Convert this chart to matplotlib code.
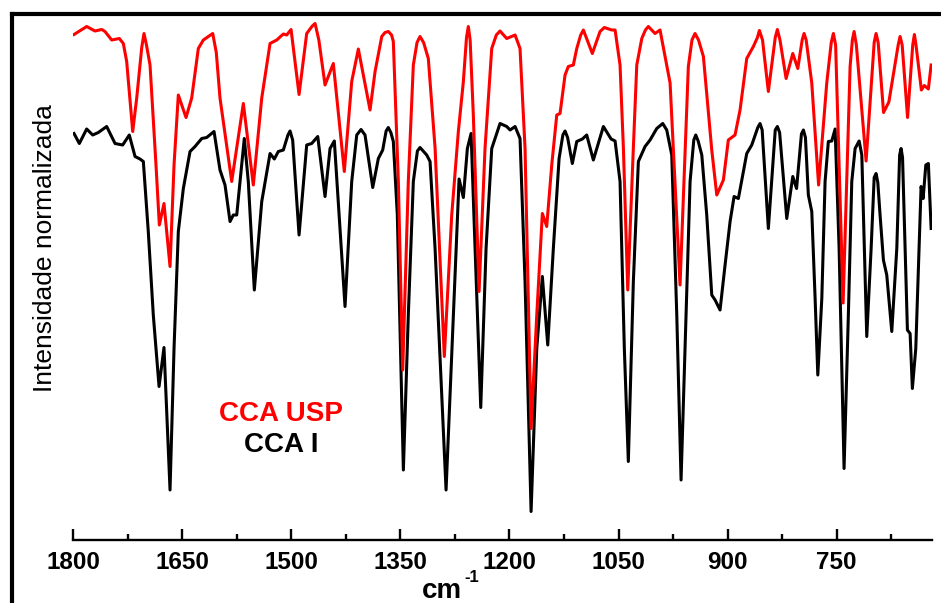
import matplotlib
matplotlib.use("Agg")
import matplotlib.pyplot as plt
from matplotlib.lines import Line2D

plt.rcParams["font.family"] = ["Liberation Sans", "DejaVu Sans"]

# Wavenumbers (cm-1) and normalized intensity, CCA USP reference (drawn with offset)
usp_wn = [1798.6, 1781.2, 1769.8, 1760.5, 1756.0, 1746.8, 1736.3, 1730.8, 1726.2, 1717.9,
          1712.4, 1705.5, 1702.4, 1699.0, 1694.1, 1685.9, 1681.3, 1674.9, 1666.6, 1661.1,
          1655.2, 1644.6, 1636.8, 1627.7, 1620.8, 1607.9, 1603.0, 1597.9, 1581.8, 1565.8,
          1552.1, 1540.5, 1529.1, 1519.9, 1510.8, 1506.2, 1500.2, 1489.2, 1478.7, 1471.0,
          1467.2, 1462.0, 1453.5, 1442.1, 1427.0, 1416.8, 1407.7, 1400.8, 1391.6, 1384.7,
          1375.5, 1371.0, 1366.5, 1362.0, 1359.6, 1352.7, 1346.7, 1339.0, 1332.1, 1327.0,
          1322.9, 1318.0, 1311.5, 1302.2, 1289.5, 1279.3, 1270.2, 1263.3, 1259.0, 1256.5,
          1254.0, 1249.6, 1241.7, 1233.5, 1224.3, 1218.0, 1212.9, 1203.7, 1192.2, 1185.4,
          1178.5, 1170.2, 1162.4, 1154.7, 1148.7, 1141.8, 1134.9, 1130.4, 1123.5, 1119.0,
          1112.1, 1107.4, 1102.0, 1098.3, 1093.0, 1086.0, 1075.4, 1069.5, 1059.3, 1054.7,
          1047.9, 1043.3, 1037.3, 1029.6, 1024.9, 1018.0, 1013.0, 1009.0, 999.8, 992.9,
          979.1, 965.4, 954.0, 949.0, 944.8, 940.0, 933.3, 921.8, 914.9, 905.8,
          899.0, 889.8, 882.9, 873.7, 864.6, 859.0, 856.3, 852.0, 844.0, 834.5,
          831.6, 828.0, 819.6, 810.4, 803.5, 797.5, 794.9, 792.0, 784.3, 774.9,
          763.7, 757.5, 754.6, 751.5, 741.2, 731.6, 728.5, 726.1, 723.0, 709.6,
          698.5, 695.9, 693.0, 685.6, 678.3, 665.5, 662.9, 660.0, 652.6, 645.5,
          643.2, 641.0, 633.6, 629.6, 624.0, 620.2]
usp_int = [1.011, 1.027, 1.018, 1.021, 1.017, 1.000, 1.003, 0.993, 0.957, 0.817,
           0.884, 0.985, 1.013, 0.990, 0.950, 0.750, 0.630, 0.673, 0.547, 0.750,
           0.890, 0.845, 0.884, 0.983, 1.000, 1.013, 0.975, 0.884, 0.717, 0.873,
           0.710, 0.884, 0.993, 1.000, 1.012, 1.010, 1.021, 0.891, 1.013, 1.028,
           1.033, 1.000, 0.910, 0.953, 0.737, 0.917, 0.982, 0.930, 0.860, 0.937,
           1.007, 1.015, 1.017, 1.010, 0.997, 0.717, 0.340, 0.717, 0.950, 0.995,
           1.007, 0.995, 0.963, 0.784, 0.367, 0.650, 0.817, 0.917, 1.005, 1.027,
           1.000, 0.850, 0.497, 0.784, 0.983, 1.010, 1.018, 1.003, 1.010, 0.983,
           0.783, 0.223, 0.450, 0.653, 0.627, 0.750, 0.850, 0.853, 0.930, 0.947,
           0.950, 0.983, 1.010, 1.020, 1.000, 0.973, 1.017, 1.025, 1.020, 1.020,
           0.950, 0.784, 0.500, 0.784, 0.950, 1.003, 1.020, 1.027, 1.013, 1.020,
           0.914, 0.510, 0.947, 1.000, 1.013, 1.000, 0.967, 0.780, 0.690, 0.720,
           0.800, 0.810, 0.860, 0.963, 0.987, 1.005, 1.019, 1.000, 0.897, 1.005,
           1.021, 1.000, 0.923, 0.973, 0.943, 1.000, 1.013, 1.000, 0.914, 0.710,
           0.914, 0.995, 1.013, 0.990, 0.474, 0.947, 1.000, 1.017, 0.990, 0.758,
           0.995, 1.013, 0.995, 0.855, 0.876, 0.990, 1.007, 0.990, 0.845, 0.990,
           1.011, 0.990, 0.900, 0.909, 0.902, 0.950]

# CCA I sample
cca_wn = [1798.6, 1791.3, 1781.2, 1772.9, 1765.2, 1753.7, 1742.2, 1731.7, 1722.6, 1714.7,
          1707.9, 1703.3, 1696.5, 1689.6, 1681.7, 1674.9, 1666.6, 1661.1, 1655.2, 1648.3,
          1639.1, 1632.2, 1623.0, 1616.2, 1606.1, 1597.9, 1591.0, 1584.1, 1579.6, 1574.9,
          1564.5, 1559.0, 1550.7, 1540.5, 1529.1, 1523.2, 1517.7, 1510.8, 1504.5, 1501.6,
          1498.0, 1489.2, 1478.7, 1471.8, 1463.5, 1453.5, 1446.6, 1440.7, 1426.0, 1416.8,
          1409.9, 1404.0, 1398.5, 1387.9, 1380.2, 1374.2, 1369.5, 1366.5, 1363.0, 1359.6,
          1354.1, 1345.8, 1339.0, 1332.1, 1326.5, 1322.9, 1313.7, 1309.1, 1302.2, 1287.1,
          1277.1, 1269.2, 1263.3, 1257.8, 1252.7, 1247.2, 1239.4, 1232.1, 1224.3, 1212.9,
          1203.7, 1199.1, 1192.2, 1185.4, 1178.5, 1170.2, 1162.4, 1154.7, 1147.3, 1139.6,
          1131.7, 1126.5, 1123.5, 1120.0, 1113.5, 1107.4, 1099.7, 1093.7, 1084.6, 1070.8,
          1060.2, 1054.7, 1047.9, 1042.0, 1036.5, 1029.6, 1022.7, 1013.5, 1006.6, 997.4,
          989.2, 983.7, 976.8, 969.9, 964.0, 957.1, 951.6, 946.5, 943.8, 940.5,
          935.5, 928.7, 921.8, 917.2, 910.4, 903.5, 896.6, 891.1, 885.2, 878.3,
          873.7, 866.8, 858.5, 855.4, 852.5, 844.0, 834.5, 831.6, 828.5, 818.7,
          810.4, 805.2, 798.5, 795.8, 793.0, 789.0, 784.3, 779.7, 776.0, 770.5,
          766.0, 761.5, 756.8, 752.2, 746.7, 739.9, 734.0, 729.3, 724.7, 719.2,
          715.5, 712.0, 708.7, 702.7, 698.5, 695.9, 693.5, 690.4, 685.8, 681.2,
          674.3, 667.4, 663.5, 661.5, 659.5, 656.0, 652.8, 649.1, 646.0, 641.3,
          636.7, 634.0, 631.2, 627.5, 624.0, 620.2]
cca_int = [0.813, 0.793, 0.822, 0.810, 0.815, 0.827, 0.793, 0.790, 0.810, 0.767,
           0.762, 0.757, 0.617, 0.450, 0.307, 0.385, 0.100, 0.383, 0.617, 0.703,
           0.777, 0.787, 0.803, 0.805, 0.817, 0.740, 0.710, 0.637, 0.650, 0.650,
           0.803, 0.717, 0.500, 0.677, 0.773, 0.762, 0.777, 0.780, 0.810, 0.818,
           0.800, 0.610, 0.790, 0.793, 0.807, 0.687, 0.783, 0.798, 0.467, 0.717,
           0.810, 0.821, 0.810, 0.705, 0.763, 0.780, 0.818, 0.825, 0.815, 0.797,
           0.650, 0.140, 0.450, 0.717, 0.778, 0.785, 0.770, 0.757, 0.583, 0.100,
           0.450, 0.722, 0.685, 0.783, 0.813, 0.583, 0.265, 0.583, 0.783, 0.833,
           0.827, 0.820, 0.827, 0.803, 0.517, 0.057, 0.383, 0.527, 0.390, 0.583,
           0.763, 0.810, 0.818, 0.805, 0.753, 0.797, 0.802, 0.810, 0.760, 0.827,
           0.802, 0.798, 0.717, 0.383, 0.157, 0.517, 0.757, 0.787, 0.800, 0.823,
           0.833, 0.820, 0.770, 0.450, 0.120, 0.450, 0.717, 0.800, 0.810, 0.798,
           0.770, 0.650, 0.490, 0.480, 0.460, 0.550, 0.637, 0.687, 0.683, 0.737,
           0.773, 0.790, 0.825, 0.833, 0.820, 0.623, 0.820, 0.827, 0.815, 0.643,
           0.727, 0.703, 0.812, 0.820, 0.805, 0.690, 0.657, 0.483, 0.330, 0.483,
           0.717, 0.797, 0.798, 0.822, 0.583, 0.143, 0.450, 0.717, 0.783, 0.798,
           0.770, 0.583, 0.407, 0.583, 0.725, 0.733, 0.715, 0.650, 0.560, 0.530,
           0.417, 0.583, 0.770, 0.783, 0.765, 0.583, 0.420, 0.413, 0.303, 0.383,
           0.583, 0.707, 0.683, 0.750, 0.753, 0.623]

major_ticks = [1800, 1650, 1500, 1350, 1200, 1050, 900, 750]
minor_ticks = [1725, 1575, 1425, 1275, 1125, 975, 825, 675]

W, H = 941, 603
fig = plt.figure(figsize=(W / 100, H / 100), dpi=100)
ax = fig.add_axes([73 / W, 1 - 540 / H, (932 - 73) / W, (540 - 15) / H])

ax.plot(cca_wn, cca_int, color="black", lw=2.2, solid_joinstyle="round", zorder=2)
ax.plot(usp_wn, usp_int, color="#ff0000", lw=2.2, solid_joinstyle="round", zorder=3)

ax.set_xlim(1800, 619)
ax.set_ylim(0, 1.05)
for side in ("left", "right", "top"):
    ax.spines[side].set_visible(False)
ax.spines["bottom"].set_linewidth(1.7)
ax.set_yticks([])
ax.set_xticks(major_ticks)
ax.set_xticks(minor_ticks, minor=True)
ax.tick_params(axis="x", which="major", direction="in", length=8, width=1.7,
               labelsize=17.5, pad=8)
ax.tick_params(axis="x", which="minor", direction="in", length=4.5, width=1.7)
for lab in ax.get_xticklabels():
    lab.set_fontweight("bold")

# axis titles
fig.text(442 / W, 1 - 591 / H, "cm", ha="center", va="center",
         fontsize=20, fontweight="bold")
fig.text(464 / W, 1 - 578 / H, "-1", ha="left", va="center",
         fontsize=12, fontweight="bold")
fig.text(45 / W, 1 - 248 / H, "Intensidade normalizada", rotation=90,
         ha="center", va="center", fontsize=19)

# sample labels
fig.text(281 / W, 1 - 414 / H, "CCA USP", color="#ff0000", ha="center",
         va="center", fontsize=20, fontweight="bold")
fig.text(281 / W, 1 - 445 / H, "CCA I", color="black", ha="center",
         va="center", fontsize=20, fontweight="bold")

# outer frame
fig.add_artist(Line2D([11.5 / W, 11.5 / W], [0, 1 - 13.8 / H], color="black",
                      lw=3.0, transform=fig.transFigure, solid_capstyle="projecting"))
fig.add_artist(Line2D([11.5 / W, 1.0], [1 - 13.8 / H, 1 - 13.8 / H], color="black",
                      lw=3.0, transform=fig.transFigure, solid_capstyle="projecting"))

fig.savefig("out.png", dpi=100)
